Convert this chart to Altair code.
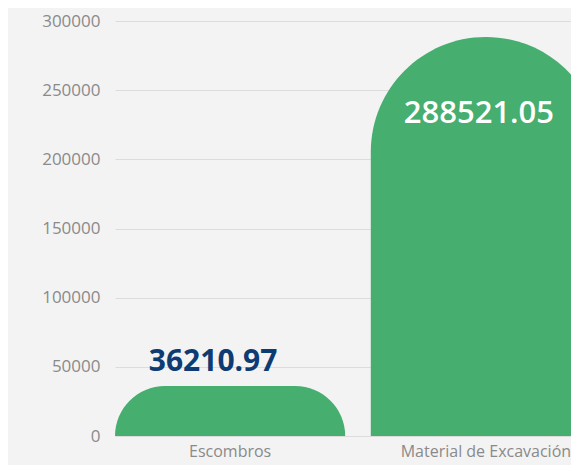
import altair as alt
import pandas as pd

categories = ["Escombros", "Material de Excavación"]
values = [36210.97, 288521.05]
y_ticks = [0, 50000, 100000, 150000, 200000, 250000, 300000]

df = pd.DataFrame({"cat": categories, "value": values})

FONT = "Open Sans"
GREEN = "#46ae6f"

x = alt.X("cat:N", sort=categories, title=None,
          scale=alt.Scale(range=[0, 486], paddingInner=0.1, paddingOuter=0),
          axis=alt.Axis(labelAngle=0, labelFont=FONT, labelFontSize=16, labelColor="#8a8a8a",
                        ticks=False, domain=False, labelPadding=7, grid=False))
y = alt.Y("value:Q", title=None,
          scale=alt.Scale(domain=[0, 300000], nice=False),
          axis=alt.Axis(values=y_ticks, labelFont=FONT, labelFontSize=17, labelColor="#8a8a8a",
                        ticks=False, domain=False, labelPadding=15, gridColor="#dcdcdc",
                        format="d"))

base = alt.Chart(df)
# bar extends below the baseline (clipped away) so the rounded top can be as deep as the bar
bars = base.transform_calculate(low="-datum.value").mark_bar(
    color=GREEN, cornerRadiusTopLeft=115, cornerRadiusTopRight=115, clip=True
).encode(x=x, y=y, y2="low:Q")

outside = base.transform_filter("datum.value < 100000").mark_text(
    font=FONT, fontSize=30, fontWeight="bold", color="#0d3b72", baseline="alphabetic", dy=-15, dx=-17
).encode(x=x, y=y, text=alt.Text("value:Q", format=".2f"))

inside = base.transform_filter("datum.value >= 100000").mark_text(
    font=FONT, fontSize=31, fontWeight=600, color="white", baseline="alphabetic", dy=86, dx=-7
).encode(x=x, y=y, text=alt.Text("value:Q", format=".2f"))

chart = alt.layer(bars, outside, inside).properties(
    width=456, height=415,
    background="#f3f3f3",
    padding={"left": 107, "top": 13, "right": 0, "bottom": 29},
    autosize=alt.AutoSizeParams(type="none"),
).configure_view(stroke=None)

chart.save("out.html", embed_options={"renderer": "svg", "actions": False})
